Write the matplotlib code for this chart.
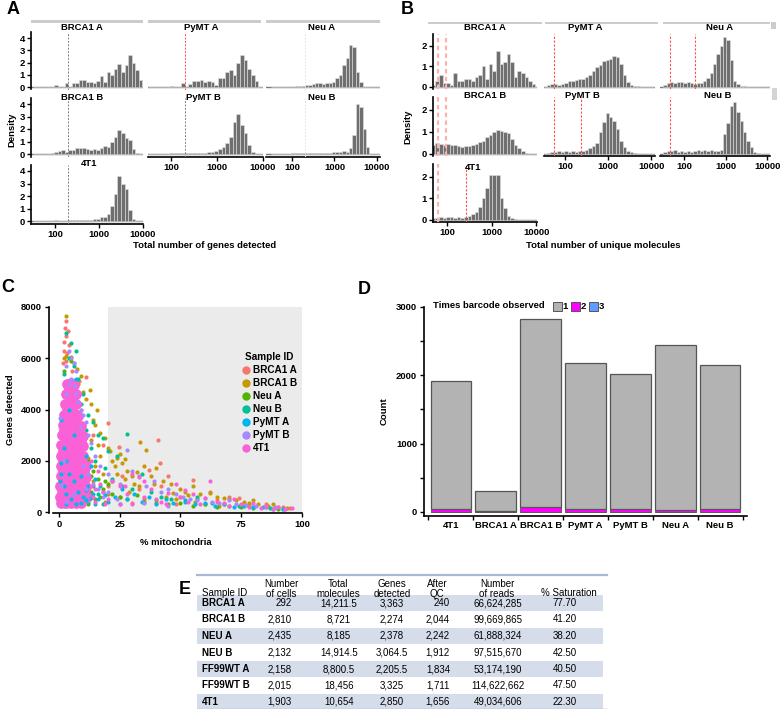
import numpy as np
import matplotlib.pyplot as plt
from matplotlib.patches import Rectangle
from matplotlib.lines import Line2D
from matplotlib.ticker import NullLocator

plt.rcParams['font.family'] = ['Liberation Sans Narrow', 'Liberation Sans', 'DejaVu Sans']
plt.rcParams['font.weight'] = 'bold'
plt.rcParams['axes.linewidth'] = 1.2

W, H = 780, 709
FS = 6.8
fig = plt.figure(figsize=(W / 100, H / 100), dpi=100)

# ---------------- data: A/B histograms (density per log10 bin) ----------------
bin_edges_log = 1.5 + 0.08 * np.arange(33)

genes_brca1_a = [0, 0, 0, 0, 0, 0, .15, 0, 0, .35, 0, .3, .3, .6, .6, .4, .45, .3, .5, .9, .4, 1.2, 1.0, 1.5, 1.9, 1.2, 1.8, 2.6, 2.0, 1.4, .6, 0]
genes_pymt_a = [0, 0, 0, 0, 0, 0, .1, 0, 0, .3, 0, .25, .5, .5, .55, .4, .5, .45, .2, .7, .75, 1.2, 1.4, 1.0, 2.0, 2.6, 2.2, 1.5, 1.0, .5, 0, 0]
genes_neu_a = [0, 0, 0, 0, 0, 0, .03, .05, .1, .1, .15, .2, .25, .3, .3, .25, .3, .3, .4, .7, 1.0, 1.8, 2.4, 3.4, 3.3, 1.2, .4, 0, 0, 0, 0, 0]
genes_brca1_b = [0, 0, 0, 0, 0, .1, .15, .25, .3, .2, .35, .3, .5, .5, .45, .4, .35, .4, .35, .5, .65, .6, 1.0, 1.4, 1.95, 1.7, 1.3, 1.1, .4, .1, 0, 0]
genes_pymt_b = [0, 0, 0, 0, 0, 0, .05, .05, .05, .08, .05, .08, .1, .08, .1, .1, .15, .2, .25, .4, .6, .9, 1.4, 2.6, 3.2, 2.3, 1.7, .7, .2, 0, 0, 0]
genes_neu_b = [0, 0, 0, 0, 0, 0, .05, .05, .05, .05, .05, .05, .1, .1, .1, .1, .1, .1, .15, .2, .15, .25, .2, .5, 1.5, 4.0, 3.8, 2.0, .6, 0, 0, 0]
genes_4t1 = [0, 0, 0, 0, 0, 0, .05, 0, 0, .03, .05, .1, .12, .1, .12, .1, .1, .15, .2, .3, .35, .6, 1.2, 2.2, 3.6, 3.0, 2.6, .9, .2, 0, 0, 0]

mol_brca1_a = [0, 0, .1, .3, .6, .2, .2, .1, .7, .3, .3, .4, .4, .3, .5, .6, 1.0, .4, 1.1, .8, 1.75, 1.1, 1.2, 1.6, 1.2, .5, .8, .7, .5, .3, .15, 0]
mol_pymt_a = [0, .1, .15, .15, .1, .15, .2, .3, .3, .35, .4, .4, .5, .6, .8, .95, 1.05, 1.25, 1.3, 1.35, 1.5, 1.45, 1.1, .6, .25, .1, .05, .03, 0, 0, 0, 0]
mol_neu_a = [.1, .2, .25, .2, .25, .25, .2, .25, .2, .15, .2, .2, .3, .45, .7, 1.1, 1.6, 2.0, 2.45, 2.3, 1.3, .3, .15, .05, .03, 0, 0, 0, 0, 0, 0, 0]
mol_brca1_b = [0, 0, .4, .5, .45, .4, .45, .4, .4, .35, .3, .35, .35, .4, .45, .55, .6, .75, .85, 1.0, 1.1, 1.05, 1.0, .95, .7, .4, .25, .15, .05, 0, 0, 0]
mol_pymt_b = [0, .05, .1, .1, .15, .1, .12, .1, .15, .1, .15, .15, .2, .25, .35, .5, 1.0, 1.45, 1.85, 1.7, 1.5, 1.15, .6, .3, .15, .08, .03, 0, 0, 0, 0, 0]
mol_neu_b = [.1, .15, .15, .2, .1, .15, .1, .15, .1, .15, .2, .15, .2, .15, .2, .15, .15, .2, .9, 1.4, 2.2, 2.35, 1.9, 1.5, 1.0, .6, .3, .1, .05, 0, 0, 0]
mol_4t1 = [0, 0, .1, .1, .15, .1, .15, .15, .1, .15, .1, .15, .2, .25, .35, .6, 1.0, 1.5, 2.1, 2.1, 2.1, 1.0, .55, .2, .1, .05, 0, 0, 0, 0, 0, 0]

# ---------------- data: C scatter (% mitochondria, genes detected) ----------------
sample_ids = ['BRCA1 A', 'BRCA1 B', 'Neu A', 'Neu B', 'PyMT A', 'PyMT B', '4T1']
sample_colors = ['#F8766D', '#C49A00', '#53B400', '#00C094', '#00B6EB', '#A58AFF', '#FB61D7']

pts_brca1_a = [(2.5, 7200), (3.0, 7450), (3.6, 7050), (2.0, 6650), (2.8, 6850), (4.1, 6500), (2.2, 6300),
               (3.3, 6200), (4.6, 6000), (1.6, 5800), (5.2, 5500), (11, 5250), (8.2, 5100), (3, 5900), (6, 4800),
               (9, 4000), (20.3, 3470), (40.9, 2810), (24.5, 2550), (41.5, 1900), (37, 1650), (45, 1400),
               (55, 1250), (78, 280), (95, 150), (92, 200), (18, 2600), (14, 3000), (26, 1400), (33, 900),
               (50, 600), (57, 500), (65, 450), (70, 600), (85, 300), (10, 1500), (5, 800), (3, 400), (7, 2500),
               (12, 700), (20, 1000), (42, 1000), (48, 300), (74, 550), (62, 800), (30, 350)]
pts_brca1_b = [(2.7, 7650), (2, 6000), (3, 6100), (5, 6050), (6, 5800), (7.5, 5600), (9, 5300), (8, 5000),
               (10, 4700), (12.8, 4760), (11, 4400), (13, 4200), (15.5, 3980), (14, 3600), (15, 3400), (17, 3100),
               (19, 2900), (13, 2800), (16, 2600), (20, 2500), (22, 2000), (24, 2100), (21, 2400), (23, 1800),
               (26, 1900), (28, 1600), (24, 1500), (27, 1300), (30, 1400), (33.3, 2740), (36, 2420), (35, 1800),
               (40, 1700), (38, 1400), (43, 1200), (31, 1100), (33, 1000), (46, 1100), (50, 900), (52, 800),
               (55, 1000), (58, 700), (62, 750), (65, 600), (68, 550), (70, 500), (73, 450), (76, 400), (78, 350),
               (82, 300), (86, 250), (90, 200), (94, 150), (44, 600), (48, 500), (56, 400), (60, 300), (66, 250),
               (29, 800), (25, 600), (35, 500), (40, 350), (4, 3000), (6, 2000), (8, 1000), (3, 500), (10, 300),
               (18, 1500), (15, 1800), (20, 700), (12, 2100), (25, 2250), (27, 2050), (32, 1550), (39, 1100),
               (47, 750), (53, 650), (80, 450), (88, 300), (22, 1200), (17, 2200), (14, 1200), (19, 400)]
pts_neu_a = [(2, 5500), (3, 5000), (4, 4500), (6, 4200), (5, 3800), (8, 3500), (7, 3000), (2, 3200), (1, 2500),
             (9, 2600), (10, 2200), (12, 2000), (14, 1600), (11, 1200), (16, 1300), (3, 1500), (5, 1000), (1, 800),
             (7, 600), (9, 400), (13, 800), (18, 900), (20, 1100), (22, 700), (25, 600), (28, 500), (32, 650),
             (35, 400), (40, 450), (45, 300), (50, 350), (55, 250), (60, 300), (65, 200), (70, 250), (75, 200),
             (80, 150), (85, 180), (90, 120), (15, 500), (4, 350), (2, 250), (6, 2200), (8, 1800), (5, 5900),
             (13, 1400), (17, 600), (19, 1200), (12, 300)]
pts_neu_b = [(3, 7000), (5, 6600), (7, 6300), (4, 6000), (6, 5700), (2, 5400), (8, 5200), (10, 4600), (9, 4200),
             (12, 3800), (14, 3500), (16, 3000), (18, 2900), (27.9, 3040), (11, 3200), (13, 2500), (20, 2400),
             (24, 2200), (15, 2000), (19, 1700), (3, 3000), (1, 2400), (2, 1800), (7, 1400), (5, 900), (1, 500),
             (10, 800), (22, 1300), (26, 1000), (30, 900), (34, 1500), (38, 800), (42, 600), (46, 500), (52, 450),
             (57, 600), (63, 350), (68, 300), (74, 250), (80, 200), (87, 150), (92, 120), (16, 700), (12, 400),
             (14, 1000), (18, 300)]
pts_pymt_a = [(2, 2500), (1, 3600), (3, 2000), (4, 1500), (6, 1200), (8, 800), (10, 600), (12, 1000), (14, 700),
              (2, 1000), (1, 1500), (5, 500), (7, 300), (3, 300), (9, 350), (11, 450), (16, 500), (18, 800),
              (20, 400), (23, 600), (26, 900), (28, 500), (31, 700), (34, 400), (37, 600), (40, 300), (44, 500),
              (47, 350), (52, 400), (56, 300), (60, 350), (64, 250), (68, 300), (72, 200), (76, 250), (80, 180),
              (84, 200), (88, 120), (92, 100), (15, 300), (25, 300), (6, 3000), (4, 4000), (13, 1800), (7, 5200),
              (1, 1900), (0.5, 1200), (3, 700), (9, 1400), (11, 2200), (13, 550), (17, 1000), (15, 1300),
              (19, 650), (11, 850)]
pts_pymt_b = [(4, 6300), (5, 6000), (6, 5800), (3, 5700), (7, 5500), (5, 5200), (4, 5000), (6.5, 4900), (7, 4600),
              (8, 4300), (3, 4600), (9, 4000), (10, 3800), (11, 3500), (8.5, 3300), (12, 3000), (13, 2700),
              (0.5, 3660), (15, 2200), (17, 1800), (20, 1500), (22, 1200), (25, 1100), (27.9, 2430), (30, 1600),
              (33, 1400), (36, 1000), (39, 1200), (42, 800), (45, 900), (48, 700), (51, 600), (54, 500), (57, 450),
              (60, 550), (63, 400), (66, 350), (70, 450), (73, 300), (77, 280), (81, 250), (85, 200), (89, 180),
              (93, 120), (18, 600), (24, 500), (11, 900), (6, 700), (3, 400), (14, 1100), (35, 350), (45, 250),
              (2, 2000), (1, 1000), (10, 1800), (16, 900), (12, 1500), (20, 800)]
pts_4t1_core = [(3.5, 5000), (5, 5050), (6.3, 4950), (3, 4600), (4.5, 4650), (6, 4550), (7, 4620),
                (2.5, 4200), (4, 4250), (5.5, 4180), (7, 4220), (2, 3800), (3.5, 3850), (5, 3780), (6.5, 3820),
                (8, 3760), (1.5, 3400), (3, 3420), (4.5, 3380), (6, 3410), (7.5, 3390), (9, 3350),
                (1.2, 3000), (2.5, 3020), (4, 2980), (5.5, 3010), (7, 2990), (8.5, 3000), (9.8, 2970),
                (1, 2600), (2.5, 2620), (4, 2580), (5.5, 2610), (7, 2590), (8.5, 2600), (10, 2580),
                (1, 2200), (2.5, 2210), (4, 2190), (5.5, 2200), (7, 2220), (8.5, 2190), (10, 2200),
                (0.8, 1800), (2.2, 1810), (3.7, 1790), (5.2, 1800), (6.7, 1820), (8.2, 1790), (9.7, 1800), (11, 1780),
                (0.8, 1400), (2.2, 1410), (3.7, 1390), (5.2, 1400), (6.7, 1420), (8.2, 1390), (9.7, 1400), (11, 1380),
                (0.6, 1000), (2, 1010), (3.5, 990), (5, 1000), (6.5, 1020), (8, 990), (9.5, 1000), (11, 980),
                (0.6, 600), (2, 610), (3.5, 590), (5, 600), (6.5, 620), (8, 590), (9.5, 600), (11.5, 580),
                (1, 350), (3, 340), (5, 360), (7, 350), (9, 340),
                (4.2, 4820), (5.8, 4400), (3.2, 4000), (6, 3600), (2.2, 3200), (8, 3200), (3.3, 2800),
                (6.3, 2800), (9.2, 2780), (1.8, 2400), (4.7, 2400), (7.8, 2400), (1.5, 2000), (4.7, 2000),
                (7.8, 2000), (1.5, 1600), (4.5, 1600), (7.5, 1600), (10.4, 1600), (1.5, 1200), (4.4, 1200),
                (7.4, 1200), (10.3, 1200), (1.3, 800), (4.3, 800), (7.3, 800), (10.3, 800)]
pts_4t1_tail = [(12, 1300), (15, 900), (18, 800), (22, 1200), (25, 1000), (28, 700), (30, 1500), (33, 1350),
                (35, 600), (38, 900), (40, 500), (42, 400), (45, 750), (48, 1100), (50, 600), (53, 400), (55, 700),
                (58, 300), (60, 550), (62, 1200), (65, 400), (68, 350), (70, 250), (72, 500), (75, 300), (78, 200),
                (80, 350), (83, 150), (85, 250), (88, 120), (90, 200), (93, 100), (96, 150), (20, 500), (15, 400),
                (25, 300), (35, 1200), (30, 300), (13, 2000), (17, 1100), (27, 1000), (44, 300), (52, 850),
                (14, 600), (16, 1600), (19, 300), (13, 1000)]

# ---------------- data: D stacked bars ----------------
bar_samples = ['4T1', 'BRCA1 A', 'BRCA1 B', 'PyMT A', 'PyMT B', 'Neu A', 'Neu B']
bar_total = [1910, 300, 2820, 2175, 2025, 2445, 2145]
bar_twice = [45, 20, 65, 45, 45, 25, 45]
bar_thrice = [2, 0, 3, 1, 1, 0, 1]

# ---------------- data: E table ----------------
table_ids = ['BRCA1 A', 'BRCA1 B', 'NEU A', 'NEU B', 'FF99WT A', 'FF99WT B', '4T1']
table_cells = ['292', '2,810', '2,435', '2,132', '2,158', '2,015', '1,903']
table_molecules = ['14,211.5', '8,721', '8,185', '14,914.5', '8,800.5', '18,456', '10,654']
table_genes = ['3,363', '2,274', '2,378', '3,064.5', '2,205.5', '3,325', '2,850']
table_qc = ['240', '2,044', '2,242', '1,912', '1,834', '1,711', '1,656']
table_reads = ['66,624,285', '99,669,865', '61,888,324', '97,515,670', '53,174,190', '114,622,662', '49,034,606']
table_sat = ['77.70', '41.20', '38.20', '42.50', '40.50', '47.50', '22.30']


def px_axes(left, top, right, bottom):
    return fig.add_axes([left / W, 1 - bottom / H, (right - left) / W, (bottom - top) / H])


def hist_panel(box, xlog, ylim, dens, vlines, left_axis, bottom_axis, yticks):
    ax = px_axes(*box)
    edges = 10 ** bin_edges_log
    ax.bar(edges[:-1], dens, width=np.diff(edges), align='edge',
           color='#6f6f6f', edgecolor='#e2e2e2', linewidth=0.4, zorder=2)
    ax.set_xscale('log')
    ax.set_xlim(10 ** xlog[0], 10 ** xlog[1])
    ax.set_ylim(*ylim)
    ax.axhline(0, color='#7a7a7a', lw=1.0, zorder=1)
    for xv, col, lw in vlines:
        ax.axvline(xv, color=col, lw=lw, ls=(0, (2, 1.5)), zorder=3)
    ax.patch.set_alpha(0)
    ax.spines[['top', 'right']].set_visible(False)
    ax.xaxis.set_minor_locator(NullLocator())
    if left_axis:
        ax.set_yticks(yticks, [str(v) for v in yticks])
        ax.tick_params(axis='y', length=3, width=1, labelsize=FS, pad=1.5)
    else:
        ax.spines['left'].set_visible(False)
        ax.set_yticks([])
    if bottom_axis:
        ax.set_xticks([100, 1000, 10000], ['100', '1000', '10000'])
        ax.tick_params(axis='x', length=3, width=1, labelsize=FS, pad=1.5)
    else:
        ax.spines['bottom'].set_visible(False)
        ax.set_xticks([])
    return ax


grey_dot = '#808080'
red = '#ff4d4d'
pink = '#ffb0b0'

# ---- panel A ----
a_ylim = (-0.2, 4.5)
a_ticks = [0, 1, 2, 3, 4]
hist_panel((31, 31.9, 143, 89.5), (1.455, 4.0), a_ylim, genes_brca1_a, [(200, grey_dot, 0.7)], True, False, a_ticks)
hist_panel((148, 31.9, 263, 89.5), (1.5, 4.0), a_ylim, genes_pymt_a, [(200, red, 0.7)], False, False, [])
hist_panel((266, 31.9, 380, 89.5), (1.39, 4.07), a_ylim, genes_neu_a, [(200, '#e4e4e4', 0.7)], False, False, [])
hist_panel((31, 97.75, 143, 156.5), (1.455, 4.0), a_ylim, genes_brca1_b, [(200, grey_dot, 0.7)], True, False, a_ticks)
hist_panel((148, 97.75, 263, 156.5), (1.5, 4.0), a_ylim, genes_pymt_b, [(200, grey_dot, 0.7)], False, True, [])
hist_panel((266, 97.75, 380, 156.5), (1.39, 4.07), a_ylim, genes_neu_b, [(200, '#e4e4e4', 0.7)], False, True, [])
hist_panel((31, 164.75, 143, 223.5), (1.455, 4.0), a_ylim, genes_4t1, [(200, grey_dot, 0.7)], True, True, a_ticks)

# ---- panel B ----
b_ylim = (-0.1, 2.6)
b_ticks = [0, 1, 2]
bx1, bx2, bx3 = (1.685, 4.02), (1.51, 4.09), (1.42, 4.07)
hist_panel((433, 33.7, 537, 89), bx1, b_ylim, mol_brca1_a, [(63, pink, 1.6), (96, pink, 1.6)], True, False, b_ticks)
hist_panel((544, 33.7, 655, 89), bx2, b_ylim, mol_pymt_a, [(56, red, 0.8)], False, False, [])
hist_panel((660, 33.7, 770, 89), bx3, b_ylim, mol_neu_a, [(46, red, 0.8), (185, red, 0.8)], False, False, [])
hist_panel((433, 96.8, 537, 156.2), bx1, b_ylim, mol_brca1_b, [(63, pink, 1.6), (96, pink, 1.6)], True, False, b_ticks)
hist_panel((544, 96.8, 655, 156.2), bx2, b_ylim, mol_pymt_b, [(56, red, 0.8), (240, red, 0.8)], False, True, [])
hist_panel((660, 96.8, 770, 156.2), bx3, b_ylim, mol_neu_b, [(46, red, 0.8)], False, True, [])
hist_panel((433, 164, 537, 222), bx1, b_ylim, mol_4t1, [(63, pink, 1.6), (270, red, 0.8)], True, True, b_ticks)

# ---- panel C ----
axc = px_axes(49, 307, 302, 513.3)
axc.set_xlim(-4.1, 100)
axc.set_ylim(-50, 8000)
axc.add_patch(Rectangle((20, -50), 80, 8050, facecolor='#ebebeb', edgecolor='none', zorder=0))
groups = [(pts_brca1_a, 0, 9), (pts_brca1_b, 1, 9), (pts_neu_a, 2, 9), (pts_neu_b, 3, 9),
          (pts_4t1_core, 6, 60), (pts_pymt_a, 4, 9), (pts_pymt_b, 5, 9), (pts_4t1_tail, 6, 9)]
for pts, ci, size in groups:
    arr = np.array(pts, dtype=float)
    axc.scatter(arr[:, 0], arr[:, 1], s=size, color=sample_colors[ci], linewidths=0, zorder=2)
axc.spines[['top', 'right']].set_visible(False)
axc.spines['bottom'].set_bounds(-2.5, 100)
axc.set_xticks([0, 25, 50, 75, 100])
axc.set_yticks([0, 2000, 4000, 6000, 8000])
axc.tick_params(length=3, width=1, labelsize=FS, pad=2)
axc.set_xlabel('% mitochondria', fontsize=FS, fontweight='bold', labelpad=6)
axc.set_ylabel('Genes detected', fontsize=FS, fontweight='bold', labelpad=4)
handles = [Line2D([], [], marker='o', ls='', markersize=5, color=c, label=n)
           for n, c in zip(sample_ids, sample_colors)]
leg = axc.legend(handles=handles, title='Sample ID', loc='upper left', bbox_to_anchor=(0.74, 0.80),
                 frameon=False, fontsize=7.2, title_fontsize=7.2, handletextpad=0.1,
                 labelspacing=0.3, borderaxespad=0, handlelength=1.2)
leg.get_title().set_fontweight('bold')

# ---- panel D ----
axd = px_axes(424, 307, 747, 515.7)
xpos = np.arange(len(bar_samples))
thrice = np.array(bar_thrice)
twice = np.array(bar_twice)
once = np.array(bar_total) - twice - thrice
axd.bar(xpos, thrice, width=0.91, color='#5f9cff', edgecolor='#555555', linewidth=0.6)
axd.bar(xpos, twice, bottom=thrice, width=0.91, color='#ff00ff', edgecolor='#555555', linewidth=0.6)
axd.bar(xpos, once, bottom=thrice + twice, width=0.91, color='#b3b3b3', edgecolor='#555555', linewidth=0.9)
axd.set_xlim(-0.6, 6.6)
axd.set_ylim(-55, 3000)
axd.spines[['top', 'right']].set_visible(False)
axd.set_xticks(np.arange(-0.5, 7.0, 1.0))
axd.set_xticklabels([])
axd.set_xticks(xpos, minor=True)
axd.set_xticklabels(bar_samples, minor=True)
axd.tick_params(axis='x', which='major', length=3, width=1)
axd.tick_params(axis='x', which='minor', length=0, labelsize=FS, pad=4)
axd.set_yticks([0, 1000, 2000, 3000])
axd.set_yticks([500, 1500, 2500], minor=True)
axd.tick_params(axis='y', which='both', length=3, width=1, labelsize=FS, pad=2)
axd.set_ylabel('Count', fontsize=FS, fontweight='bold', labelpad=5)

# ---------------- overlay for free text ----------------
ov = fig.add_axes([0, 0, 1, 1])
ov.set_xlim(0, W)
ov.set_ylim(H, 0)
ov.axis('off')


def t(x, y, s, **kw):
    kw.setdefault('fontsize', FS)
    kw.setdefault('ha', 'center')
    kw.setdefault('va', 'center')
    return ov.text(x, y, s, **kw)


# panel letters
for x, y, s in [(13, 9, 'A'), (407, 9, 'B'), (8, 288, 'C'), (364, 289, 'D'), (185, 589, 'E')]:
    t(x, y, s, fontsize=13, family=['Liberation Sans', 'DejaVu Sans'], fontweight='bold')

# strips
for x0, x1 in [(31, 143), (148, 261), (266, 380)]:
    ov.add_patch(Rectangle((x0, 19.5), x1 - x0, 3, facecolor='#cccccc', edgecolor='none'))
for x0, x1 in [(428, 542), (545, 658), (663, 770)]:
    ov.add_patch(Rectangle((x0, 21.5), x1 - x0, 2.5, facecolor='#cccccc', edgecolor='none'))
ov.add_patch(Rectangle((771, 21.5), 5, 7, facecolor='#cccccc', edgecolor='none'))
ov.add_patch(Rectangle((772, 88), 5, 12, facecolor='#d4d4d4', edgecolor='none'))

for x, y, s in [(82, 27, 'BRCA1 A'), (201, 27, 'PyMT A'), (322, 27, 'Neu A'),
                (82, 97, 'BRCA1 B'), (203, 97, 'PyMT B'), (322, 97, 'Neu B'), (89, 163, '4T1'),
                (485, 27, 'BRCA1 A'), (585, 27, 'PyMT A'), (720, 27, 'Neu A'),
                (485, 95, 'BRCA1 B'), (582, 95, 'PyMT B'), (718, 95, 'Neu B'), (473, 167, '4T1')]:
    t(x, y, s)

t(205, 246, 'Total number of genes detected')
t(603, 246, 'Total number of unique molecules')
t(12, 130, 'Density', rotation=90)
t(408, 127, 'Density', rotation=90)

# D legend: boxes placed after the measured title
renderer = fig.canvas.get_renderer()
title_d = t(433, 306, 'Times barcode observed', ha='left')
bb = title_d.get_window_extent(renderer=renderer)
x_end = ov.transData.inverted().transform((bb.x1, bb.y0))[0]
for dx, col, lab in [(8, '#b3b3b3', '1'), (26, '#ff00ff', '2'), (44, '#5f9cff', '3')]:
    ov.add_patch(Rectangle((x_end + dx, 302), 9, 9, facecolor=col, edgecolor='#555555', lw=0.7))
    t(x_end + dx + 10, 306.5, lab, ha='left')

# E table
ov.plot([197, 607], [574.5, 574.5], color='#a7b9d3', lw=1.6)
ov.plot([197, 607], [708.5, 708.5], color='#a7b9d3', lw=1.0)
row_y = [603 + 16.5 * i for i in range(len(table_ids))]
for i, y in enumerate(row_y):
    if i % 2 == 0:
        ov.add_patch(Rectangle((197, y - 7.8), 406, 15.6, facecolor='#d6ddea', edgecolor='none', zorder=0))
hdr = dict(fontweight='normal', fontsize=7)
t(202, 593, 'Sample ID', ha='left', **hdr)
for x, s in [(281, 'Number\nof cells'), (338, 'Total\nmolecules'), (392, 'Genes\ndetected'),
             (437, 'After\nQC'), (497, 'Number\nof reads')]:
    t(x, 589, s, linespacing=0.95, **hdr)
t(569, 593, '% Saturation', **hdr)
for i, y in enumerate(row_y):
    t(202, y, table_ids[i], ha='left', fontsize=7)
    t(292, y, table_cells[i], ha='right', fontweight='normal', fontsize=7)
    t(339, y, table_molecules[i], fontweight='normal', fontsize=7)
    t(392, y, table_genes[i], fontweight='normal', fontsize=7)
    t(450, y, table_qc[i], ha='right', fontweight='normal', fontsize=7)
    t(498, y, table_reads[i], fontweight='normal', fontsize=7)
    t(565, y, table_sat[i], fontweight='normal', fontsize=7)

fig.savefig('out.png', dpi=100, facecolor='white')
